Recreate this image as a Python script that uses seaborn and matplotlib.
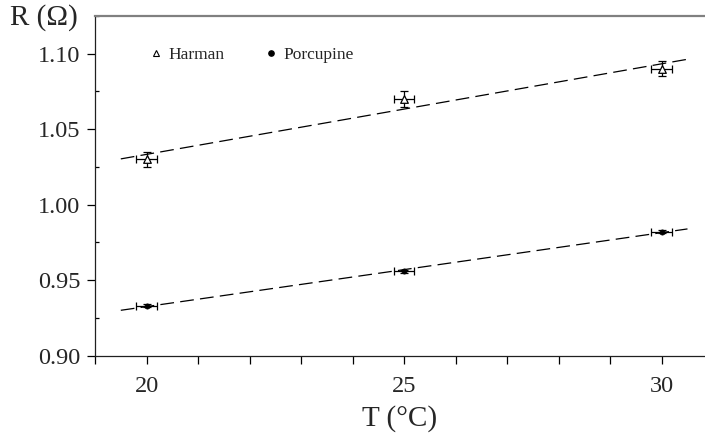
import matplotlib
matplotlib.use("Agg")
import matplotlib.pyplot as plt
from matplotlib.ticker import MultipleLocator
from matplotlib.lines import Line2D
import numpy as np
import pandas as pd
import seaborn as sns

temps = [20, 25, 30]
harman_r = [1.030, 1.070, 1.090]
harman_rerr = [0.005, 0.005, 0.005]
porcupine_r = [0.933, 0.956, 0.982]
porcupine_rerr = [0.001, 0.001, 0.001]
temp_err = [0.2, 0.2, 0.2]
fit_range = [19.5, 30.5]
series_names = ["Harman", "Porcupine"]

df = pd.DataFrame({
    "T": temps * 2,
    "R": harman_r + porcupine_r,
    "Rerr": harman_rerr + porcupine_rerr,
    "Terr": temp_err * 2,
    "sample": [series_names[0]] * 3 + [series_names[1]] * 3,
})

sns.set_style("ticks")
plt.rcParams["font.family"] = ["Liberation Serif", "DejaVu Serif"]

fig = plt.figure(figsize=(7.05, 4.38), dpi=100)
ax = fig.add_axes([0.1348, 0.188, 0.8652, 0.7755])

# linear fits, dashed
fits = []
for name in series_names:
    sub = df[df["sample"] == name]
    k, b = np.polyfit(sub["T"], sub["R"], 1)
    fits.append(pd.DataFrame({"T": fit_range, "R": [k * t + b for t in fit_range], "sample": name}))
fit_df = pd.concat(fits)
for name in series_names:
    sns.lineplot(data=fit_df[fit_df["sample"] == name], x="T", y="R", ax=ax,
                 color="black", linewidth=0.9, errorbar=None)
for ln in ax.get_lines():
    ln.set_dashes((11, 5))

# error bars
for name in series_names:
    sub = df[df["sample"] == name]
    ax.errorbar(sub["T"], sub["R"], xerr=sub["Terr"], yerr=sub["Rerr"], fmt="none",
                ecolor="black", elinewidth=0.9, capsize=2.8, capthick=0.9, zorder=3)

sns.scatterplot(data=df[df["sample"] == "Harman"], x="T", y="R", ax=ax, marker="^",
                s=30, facecolor="white", edgecolor="black", linewidth=0.9, zorder=4, legend=False)
sns.scatterplot(data=df[df["sample"] == "Porcupine"], x="T", y="R", ax=ax, marker="o",
                s=14, color="black", edgecolor="black", linewidth=0.5, zorder=4, legend=False)

ax.set_xlim(19, 30.84)
ax.set_ylim(0.90, 1.125)
ax.set_xticks([20, 25, 30])
ax.xaxis.set_minor_locator(MultipleLocator(1))
ax.set_yticks([0.90, 0.95, 1.00, 1.05, 1.10])
ax.set_yticklabels(["0.90", "0.95", "1.00", "1.05", "1.10"])
ax.yaxis.set_minor_locator(MultipleLocator(0.025))
ax.tick_params(axis="both", which="major", labelsize=17.5, length=5.5, width=0.9, color="black", pad=5)
ax.tick_params(axis="x", which="minor", length=5.5, width=0.9, color="black")
ax.tick_params(axis="y", which="minor", length=3, width=0.9, color="black", direction="in")
ax.tick_params(axis="x", which="major", pad=9)

ax.spines["right"].set_visible(False)
ax.spines["top"].set_color("#808080")
ax.spines["top"].set_linewidth(1.6)
ax.spines["left"].set_color("#202020")
ax.spines["bottom"].set_color("#202020")
ax.spines["left"].set_linewidth(0.9)
ax.spines["bottom"].set_linewidth(0.9)

ax.set_xlabel("T (°C)", fontsize=21, labelpad=6)
ax.set_ylabel("R (Ω)", fontsize=21, rotation=0, ha="right", va="center")
ax.yaxis.set_label_coords(-0.028, 0.994)

handles = [
    Line2D([], [], marker="^", linestyle="none", markerfacecolor="white",
           markeredgecolor="black", markersize=4.5, markeredgewidth=0.8),
    Line2D([], [], marker="o", linestyle="none", color="black", markersize=3.8),
]
ax.legend(handles, series_names, ncol=2, frameon=False, fontsize=12.5,
          loc="upper left", bbox_to_anchor=(0.057, 0.955),
          handletextpad=0.1, columnspacing=2.1, handlelength=1.2)

plt.savefig("out.png", dpi=100)
